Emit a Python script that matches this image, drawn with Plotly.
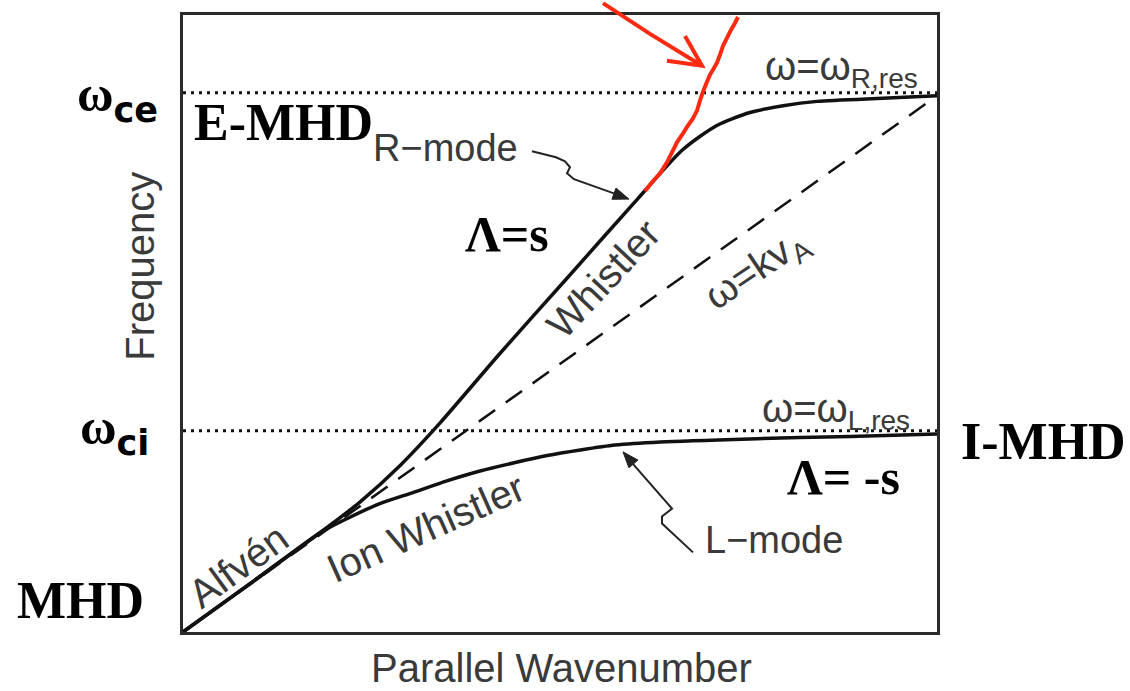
import math
import plotly.graph_objects as go

# Parallel wavenumber k (arbitrary units, 0..10) and frequency omega (0..10)
k_R = [0.0, 1.02, 1.95, 2.35, 2.88, 3.41, 4.20, 5.09, 6.03, 6.63, 7.08, 7.52, 7.96, 8.41, 9.28, 10.0]
w_R = [0.0, 0.90, 1.73, 2.11, 2.70, 3.39, 4.51, 5.73, 7.02, 7.82, 8.21, 8.42, 8.53, 8.60, 8.65, 8.69]

k_L = [0.0, 1.02, 1.82, 2.18, 2.61, 3.05, 3.50, 3.94, 4.38, 4.83, 5.27, 5.73, 6.33, 7.52, 8.85, 10.0]
w_L = [0.0, 0.90, 1.61, 1.84, 2.08, 2.26, 2.45, 2.61, 2.74, 2.86, 2.95, 3.03, 3.08, 3.13, 3.17, 3.21]

k_alfven = [0.0, 10.0]
w_alfven = [0.0, 8.69]

k_span = [0.0, 10.0]
omega_ce = 8.74
omega_ci = 3.26

# figure geometry (pixels) used to place the hand annotations
W, H = 1130, 691
L0, R0, T0, B0 = 183, 937, 12, 632


def px(x, y):
    """pixel position -> paper coordinates"""
    return (x - L0) / (R0 - L0), (B0 - y) / (B0 - T0)


def path_from(points, close=False):
    pts = [px(x, y) for x, y in points]
    d = "M {:.5f},{:.5f}".format(*pts[0])
    for p in pts[1:]:
        d += " L {:.5f},{:.5f}".format(*p)
    if close:
        d += " Z"
    return d


fig = go.Figure()

BLACK = "#111111"
GRAY = "#3a3a3a"

fig.add_trace(go.Scatter(x=k_span, y=[omega_ce, omega_ce], mode="lines",
                         line=dict(color=BLACK, width=3, dash="3px,5px")))
fig.add_trace(go.Scatter(x=k_span, y=[omega_ci, omega_ci], mode="lines",
                         line=dict(color=BLACK, width=3, dash="3px,5px")))
fig.add_trace(go.Scatter(x=k_alfven, y=w_alfven, mode="lines",
                         line=dict(color=BLACK, width=2.5, dash="20px,13px")))
fig.add_trace(go.Scatter(x=k_R, y=w_R, mode="lines", line_shape="spline",
                         line=dict(color=BLACK, width=3.5, smoothing=0.7)))
fig.add_trace(go.Scatter(x=k_L, y=w_L, mode="lines", line_shape="spline",
                         line=dict(color=BLACK, width=3.5, smoothing=0.7)))

annotations = []


def label(text, x, y, size, family, color, angle=0):
    xp, yp = px(x, y)
    annotations.append(dict(text=text, x=xp, y=yp, xref="paper", yref="paper",
                            showarrow=False, xanchor="center", yanchor="middle",
                            textangle=angle,
                            font=dict(size=size, family=family, color=color)))


SANS = "Liberation Sans"
SERIF = "Liberation Serif"

# axis titles and curve labels
label("Frequency", 140, 265, 40, SANS, GRAY, -90)
label("Parallel Wavenumber", 561, 668, 40, SANS, GRAY)
label("R\u2212mode", 445, 146, 38, SANS, GRAY)
label("L\u2212mode", 774, 540, 38, SANS, GRAY)
label("Whistler", 603, 277, 40, SANS, GRAY, -47)
label("Ion Whistler", 425, 527, 40, SANS, GRAY, -24)
label("Alfvén", 238, 566, 40, SANS, GRAY, -36)
label("ω=kv<sub>A</sub>", 757, 268, 40, SANS, GRAY, -34)
label("ω=ω<sub>R,res</sub>", 841, 66, 40, SANS, GRAY)
label("ω=ω<sub>L,res</sub>", 836, 410, 40, SANS, GRAY)

# regime labels
label("<b>ω<span style='font-family:DejaVu Sans'><sub>ce</sub></span></b>", 117, 95, 50, SERIF, "#000000")
label("<b>ω<span style='font-family:DejaVu Sans'><sub>ci</sub></span></b>", 114, 430, 50, SERIF, "#000000")
label("<b>MHD</b>", 80, 600, 52, SERIF, "#000000")
label("<b>E-MHD</b>", 283, 120, 52, SERIF, "#000000")
label("<b>I-MHD</b>", 1043, 441, 52, SERIF, "#000000")
label("<b>Λ=s</b>", 507, 232, 50, SERIF, "#000000")
label("<b>Λ= -s</b>", 843, 476, 50, SERIF, "#000000")

shapes = []


def head(tip, tail, color, length=16, half=6):
    """filled triangular arrowhead pointing from tail to tip"""
    dx, dy = tip[0] - tail[0], tip[1] - tail[1]
    n = math.hypot(dx, dy)
    ux, uy = dx / n, dy / n
    bx, by = tip[0] - ux * length, tip[1] - uy * length
    p1 = (bx - uy * half, by + ux * half)
    p2 = (bx + uy * half, by - ux * half)
    shapes.append(dict(type="path", xref="paper", yref="paper",
                       path=path_from([tip, p1, p2], close=True),
                       fillcolor=color, line=dict(color=color, width=1)))


DARK = "#222222"
# squiggly pointer stems with arrowheads
shapes.append(dict(type="path", xref="paper", yref="paper",
                   path=path_from([(532, 149), (556, 155), (565, 159), (570, 165),
                                   (567, 171), (574, 177), (616, 192)]),
                   line=dict(color=DARK, width=2)))
head((629, 197), (574, 177), DARK)
shapes.append(dict(type="path", xref="paper", yref="paper",
                   path=path_from([(693, 552), (662, 523), (662, 516), (672, 508),
                                   (632, 462)]),
                   line=dict(color=DARK, width=2)))
head((623, 451), (672, 508), DARK)

# red hand-drawn trace and arrow
RED = "#fb2a10"
shapes.append(dict(type="path", xref="paper", yref="paper",
                   path=path_from([(645, 189), (652, 180), (660, 171), (667, 160),
                                   (672, 150), (677, 140), (683, 131), (688, 123),
                                   (693, 116), (697, 108), (700, 98), (703, 89),
                                   (707, 79), (710, 72), (713, 67), (717, 60),
                                   (720, 52), (723, 43), (727, 35), (731, 27),
                                   (735, 20), (738, 14)]),
                   line=dict(color=RED, width=4)))
shapes.append(dict(type="path", xref="paper", yref="paper",
                   path=path_from([(603, 0), (650, 31), (702, 63)]),
                   line=dict(color=RED, width=4)))
shapes.append(dict(type="path", xref="paper", yref="paper",
                   path=path_from([(685, 33), (702, 63), (667, 58)]),
                   line=dict(color=RED, width=4)))

fig.update_layout(
    width=W, height=H,
    margin=dict(l=L0, r=W - R0, t=T0, b=H - B0, pad=0),
    paper_bgcolor="white", plot_bgcolor="white",
    showlegend=False,
    annotations=annotations,
    shapes=shapes,
    xaxis=dict(range=[0, 10], showticklabels=False, ticks="", showgrid=False,
               zeroline=False, showline=True, mirror=True,
               linecolor="#2a2a2a", linewidth=2.5),
    yaxis=dict(range=[0, 10], showticklabels=False, ticks="", showgrid=False,
               zeroline=False, showline=True, mirror=True,
               linecolor="#2a2a2a", linewidth=2.5),
)

fig.write_html("out.html")
